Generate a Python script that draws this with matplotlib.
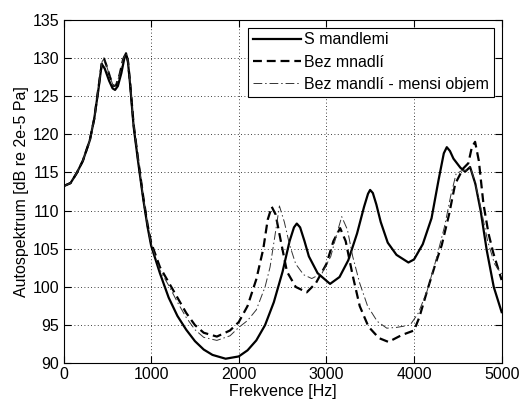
import matplotlib.pyplot as plt
import numpy as np

#============================================================
# Data
#============================================================

f_s = [0, 80, 150, 220, 300, 350, 400, 436, 470, 520, 560, 588, 620, 660,
       695, 713, 735, 760, 800, 850, 911, 960, 1000, 1100, 1200, 1300, 1400,
       1500, 1600, 1700, 1850, 2000, 2100, 2200, 2300, 2400, 2500, 2580,
       2630, 2662, 2700, 2750, 2800, 2900, 3042, 3150, 3250, 3350, 3430,
       3475, 3499, 3530, 3570, 3620, 3700, 3800, 3936, 4000, 4100, 4200,
       4280, 4340, 4374, 4410, 4450, 4530, 4583, 4640, 4700, 4760, 4830,
       4910, 5000]
s_mandlemi = [113.2, 113.6, 114.9, 116.5, 119.2, 122.0, 126.0, 129.2, 128.6,
              127.0, 126.0, 125.8, 126.3, 128.0, 130.0, 130.6, 129.5, 126.5,
              121.0, 116.5, 111.4, 107.8, 105.4, 101.8, 98.6, 96.2, 94.4,
              92.9, 91.8, 91.1, 90.6, 90.9, 91.7, 93.0, 95.0, 98.0, 102.0,
              106.0, 107.8, 108.3, 107.8, 106.0, 104.0, 101.8, 100.4, 101.3,
              103.5, 107.0, 110.5, 112.2, 112.7, 112.3, 110.8, 108.5, 105.8,
              104.2, 103.2, 103.6, 105.6, 109.0, 114.0, 117.5, 118.3, 117.8,
              116.8, 115.6, 115.1, 115.7, 113.5, 110.0, 104.8, 100.0, 96.7]

f_b = [0, 80, 150, 220, 300, 350, 400, 440, 462, 490, 530, 569, 600, 640,
       680, 713, 735, 760, 800, 850, 911, 960, 1000, 1100, 1200, 1300, 1400,
       1500, 1600, 1750, 1900, 2000, 2100, 2200, 2280, 2330, 2376, 2420,
       2480, 2550, 2650, 2776, 2880, 3000, 3080, 3157, 3220, 3300, 3380,
       3480, 3600, 3708, 3860, 4000, 4060, 4150, 4233, 4317, 4400, 4470,
       4560, 4620, 4660, 4697, 4740, 4792, 4850, 4906, 5000]
bez_mandli = [113.2, 113.6, 114.9, 116.5, 119.2, 122.0, 126.2, 129.5, 129.9,
              129.0, 127.5, 126.3, 126.4, 127.8, 129.8, 130.6, 129.6, 126.7,
              121.3, 116.8, 111.7, 108.1, 105.8, 102.6, 100.6, 98.6, 96.6,
              95.0, 94.0, 93.5, 94.3, 95.4, 97.5, 101.0, 105.0, 108.8, 110.5,
              109.5, 106.0, 102.0, 100.0, 99.3, 100.5, 103.0, 106.0, 107.7,
              106.0, 101.5, 97.5, 94.8, 93.3, 92.8, 93.7, 94.3, 96.0, 99.5,
              102.6, 105.5, 109.5, 113.5, 115.5, 116.2, 118.3, 119.0, 116.5,
              110.9, 107.0, 104.4, 100.9]

f_m = [0, 80, 150, 220, 300, 350, 400, 440, 462, 490, 530, 569, 600, 640,
       680, 713, 735, 760, 800, 850, 911, 960, 1000, 1100, 1200, 1300, 1400,
       1500, 1600, 1750, 1900, 2000, 2100, 2200, 2300, 2357, 2410, 2464,
       2520, 2580, 2650, 2740, 2833, 2950, 3050, 3120, 3175, 3240, 3300,
       3380, 3470, 3580, 3689, 3800, 3955, 4050, 4150, 4250, 4350, 4420,
       4480, 4540, 4600, 4640, 4690, 4760, 4840, 4920, 5000]
mensi_objem = [113.2, 113.6, 114.9, 116.5, 119.2, 122.0, 126.2, 129.5, 129.9,
               129.0, 127.5, 126.3, 126.4, 127.8, 129.8, 130.6, 129.6, 126.7,
               121.3, 116.8, 111.7, 108.0, 105.6, 102.2, 100.2, 98.0, 96.0,
               94.4, 93.4, 93.0, 93.6, 94.7, 95.6, 97.0, 100.0, 102.6, 106.5,
               110.6, 108.5, 105.5, 103.0, 101.6, 101.1, 101.8, 104.0, 107.0,
               109.2, 107.5, 104.0, 100.5, 97.5, 95.5, 94.6, 94.7, 95.0, 96.6,
               99.5, 103.5, 108.0, 112.0, 114.8, 115.2, 115.3, 115.7, 114.0,
               110.5, 106.0, 103.0, 101.7]

labels = ['S mandlemi', 'Bez mnadlí', 'Bez mandlí - mensi objem']

#============================================================
# Graf
#============================================================

plt.rcParams['font.family'] = ['Liberation Sans', 'DejaVu Sans']
plt.rcParams['font.size'] = 11.5

fig = plt.figure(figsize=(5.22, 4.01), dpi=100)
ax = fig.add_axes([0.1217, 0.094, 0.8393, 0.857])

ax.plot(f_s, s_mandlemi, color='black', lw=1.6, label=labels[0])
ax.plot(f_b, bez_mandli, color='black', lw=1.6, linestyle=(0, (4, 2.2)),
        label=labels[1])
ax.plot(f_m, mensi_objem, color='#333333', lw=0.7,
        linestyle=(0, (9, 3, 1.5, 3)), label=labels[2])

ax.set_xlim(0, 5000)
ax.set_ylim(90, 135)
ax.set_xticks(np.arange(0, 5001, 1000))
ax.set_yticks(np.arange(90, 136, 5))
ax.tick_params(direction='in', top=True, right=True, length=5, pad=3)
ax.grid(True, linestyle=(0, (1, 3)), color='black', lw=0.6)
ax.set_xlabel('Frekvence [Hz]', labelpad=1)
ax.set_ylabel('Autospektrum [dB re 2e-5 Pa]', labelpad=3)

leg = ax.legend(loc='upper right', fancybox=False, edgecolor='black',
                framealpha=1, handlelength=3.0, handletextpad=0.2,
                borderaxespad=0.5, labelspacing=0.45, borderpad=0.3)
leg.get_frame().set_linewidth(0.8)

plt.savefig('out.png', dpi=100)
